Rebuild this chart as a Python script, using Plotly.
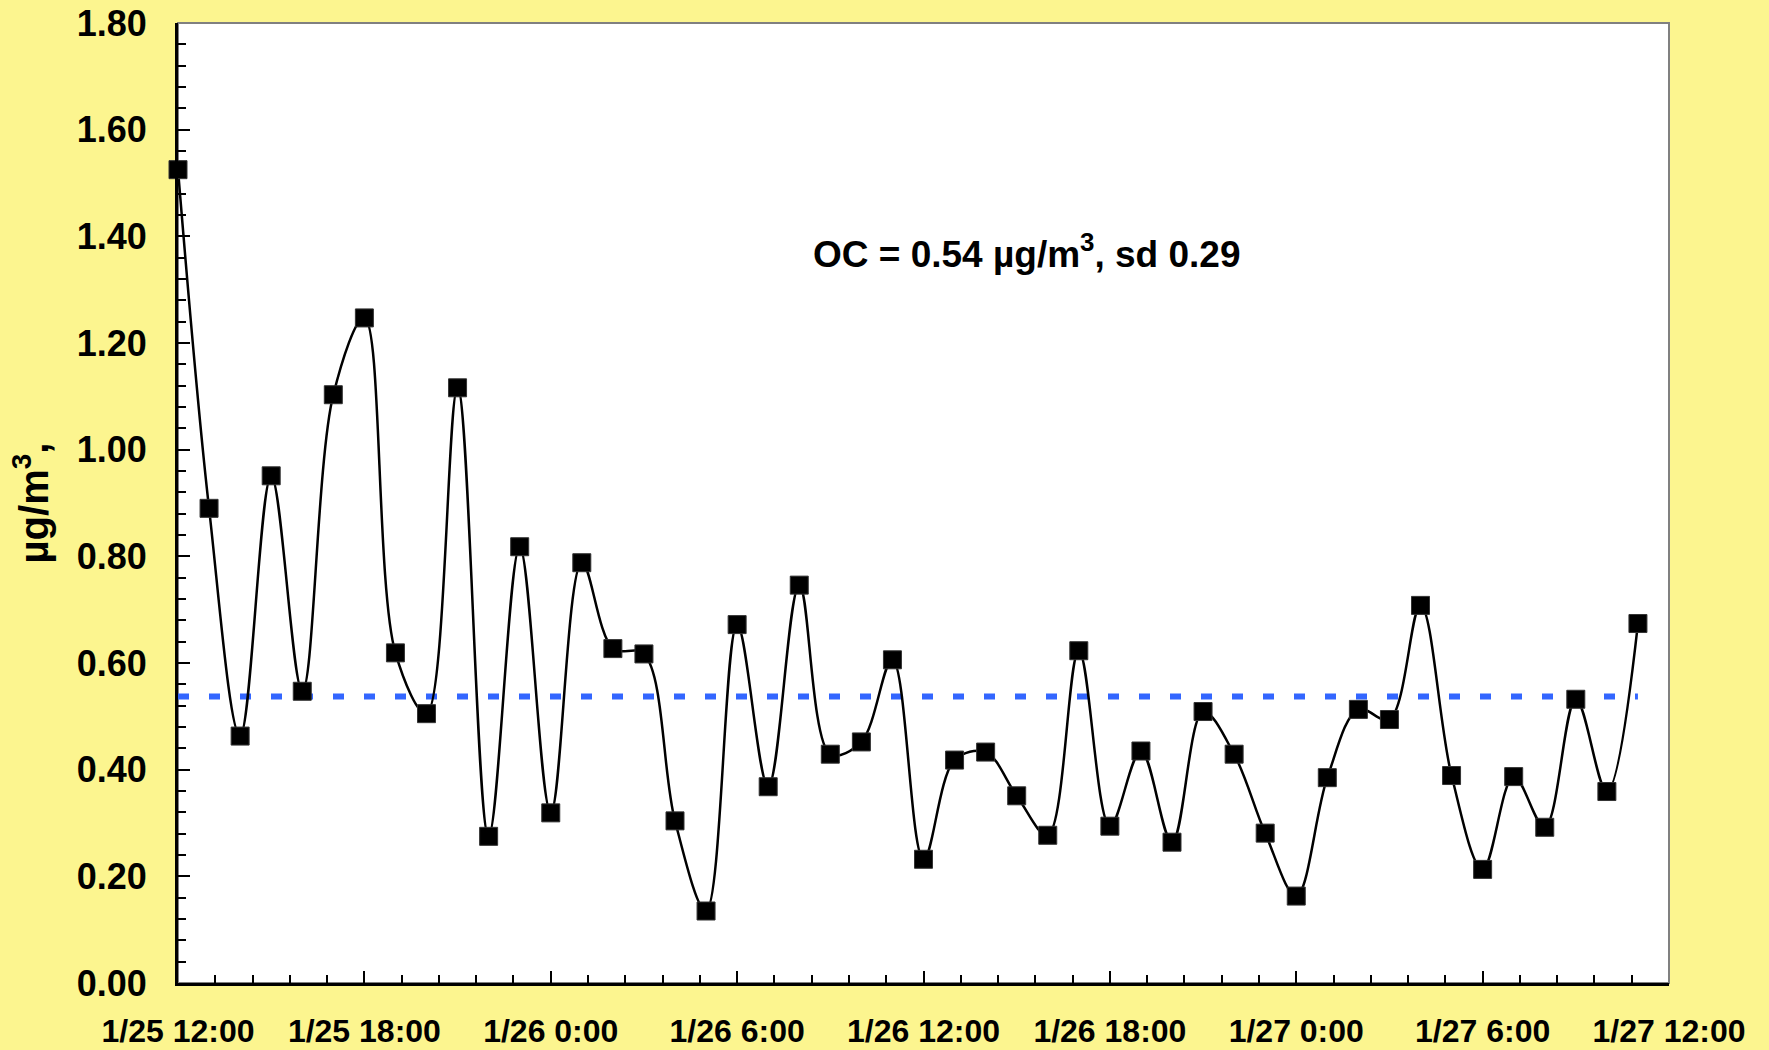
import numpy as np
import plotly.graph_objects as go

# ---- data ----
times = [
    "2003-01-25 12:00", "2003-01-25 13:00", "2003-01-25 14:00", "2003-01-25 15:00",
    "2003-01-25 16:00", "2003-01-25 17:00", "2003-01-25 18:00", "2003-01-25 19:00",
    "2003-01-25 20:00", "2003-01-25 21:00", "2003-01-25 22:00", "2003-01-25 23:00",
    "2003-01-26 00:00", "2003-01-26 01:00", "2003-01-26 02:00", "2003-01-26 03:00",
    "2003-01-26 04:00", "2003-01-26 05:00", "2003-01-26 06:00", "2003-01-26 07:00",
    "2003-01-26 08:00", "2003-01-26 09:00", "2003-01-26 10:00", "2003-01-26 11:00",
    "2003-01-26 12:00", "2003-01-26 13:00", "2003-01-26 14:00", "2003-01-26 15:00",
    "2003-01-26 16:00", "2003-01-26 17:00", "2003-01-26 18:00", "2003-01-26 19:00",
    "2003-01-26 20:00", "2003-01-26 21:00", "2003-01-26 22:00", "2003-01-26 23:00",
    "2003-01-27 00:00", "2003-01-27 01:00", "2003-01-27 02:00", "2003-01-27 03:00",
    "2003-01-27 04:00", "2003-01-27 05:00", "2003-01-27 06:00", "2003-01-27 07:00",
    "2003-01-27 08:00", "2003-01-27 09:00", "2003-01-27 10:00", "2003-01-27 11:00",
]
oc_values = [
    1.525, 0.890, 0.463, 0.951, 0.547, 1.103, 1.247, 0.619, 0.505, 1.116,
    0.275, 0.818, 0.319, 0.788, 0.627, 0.617, 0.304, 0.135, 0.672, 0.368,
    0.746, 0.429, 0.452, 0.606, 0.232, 0.418, 0.433, 0.351, 0.277, 0.623,
    0.294, 0.435, 0.264, 0.509, 0.429, 0.281, 0.163, 0.385, 0.513, 0.494,
    0.708, 0.389, 0.213, 0.387, 0.292, 0.532, 0.359, 0.674,
]
x_tick_vals = [
    "2003-01-25 12:00", "2003-01-25 18:00", "2003-01-26 00:00", "2003-01-26 06:00",
    "2003-01-26 12:00", "2003-01-26 18:00", "2003-01-27 00:00", "2003-01-27 06:00",
    "2003-01-27 12:00",
]
x_tick_text = [
    "1/25 12:00", "1/25 18:00", "1/26 0:00", "1/26 6:00", "1/26 12:00",
    "1/26 18:00", "1/27 0:00", "1/27 6:00", "1/27 12:00",
]
y_tick_vals = [0.0, 0.2, 0.4, 0.6, 0.8, 1.0, 1.2, 1.4, 1.6, 1.8]
y_tick_text = ["0.00", "0.20", "0.40", "0.60", "0.80", "1.00", "1.20", "1.40", "1.60", "1.80"]
mean_oc = float(np.mean(oc_values))
stats_text = "OC = 0.54 µg/m<sup>3</sup>, sd 0.29"
y_title = "µg/m<sup>3</sup>,"

# ---- style ----
BG = "rgb(252,245,143)"
FONT = "Liberation Sans, Arial, sans-serif"

fig = go.Figure()

fig.add_trace(go.Scatter(
    x=[times[0], times[-1]], y=[mean_oc, mean_oc],
    mode="lines",
    line=dict(color="#3366FF", width=6, dash="11px,20px"),
    hoverinfo="skip", showlegend=False,
))

fig.add_trace(go.Scatter(
    x=times, y=oc_values,
    mode="lines+markers",
    line=dict(color="black", width=2.5, shape="spline", smoothing=1.0),
    marker=dict(symbol="square", size=18, color="black",
                line=dict(color="#333333", width=1)),
    cliponaxis=False, showlegend=False,
))

# plot frame (grey top/right)
fig.add_shape(type="rect", xref="paper", yref="paper", x0=0, x1=1, y0=0, y1=1,
              line=dict(color="#808080", width=2), layer="below")

fig.add_annotation(
    text=stats_text, xref="paper", yref="paper", x=0.5695, y=0.762,
    showarrow=False, xanchor="center", yanchor="middle",
    font=dict(family=FONT, size=37, color="black", weight="bold"),
)

fig.update_layout(
    width=1769, height=1050, autosize=False,
    paper_bgcolor=BG, plot_bgcolor="white",
    margin=dict(l=178, r=100, t=23, b=67),
    font=dict(family=FONT, color="black", weight="bold"),
    showlegend=False,
)

fig.update_xaxes(
    type="date",
    range=["2003-01-25 12:00", "2003-01-27 12:00"],
    tickmode="array", tickvals=x_tick_vals, ticktext=x_tick_text,
    ticks="inside", ticklen=12, tickwidth=2, tickcolor="black",
    minor=dict(tick0="2003-01-25 12:00", dtick=4320000, ticks="inside",
               ticklen=8, tickwidth=1.5, tickcolor="black", showgrid=False),
    showgrid=False, zeroline=False,
    showline=True, linecolor="black", linewidth=3, mirror=False,
    tickfont=dict(family=FONT, size=32, color="black", weight="bold"),
    ticklabelstandoff=18,
    automargin=False,
)

fig.update_yaxes(
    range=[0, 1.8],
    tickmode="array", tickvals=y_tick_vals, ticktext=y_tick_text,
    ticks="inside", ticklen=12, tickwidth=2, tickcolor="black",
    minor=dict(tick0=0, dtick=0.04, ticks="inside",
               ticklen=8, tickwidth=1.5, tickcolor="black", showgrid=False),
    showgrid=False, zeroline=False,
    showline=True, linecolor="black", linewidth=3, mirror=False,
    tickfont=dict(family=FONT, size=36, color="black", weight="bold"),
    ticklabelstandoff=21,
    title=dict(text=y_title, standoff=16,
               font=dict(family=FONT, size=40, color="black", weight="bold")),
    automargin=False,
)

fig.write_html("out.html")
